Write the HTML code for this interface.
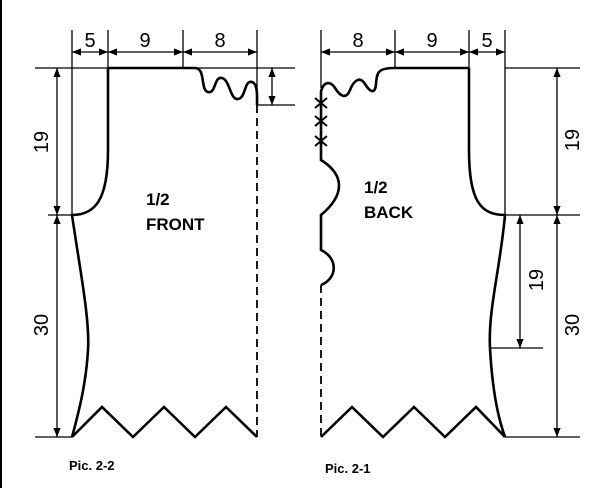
<!DOCTYPE html>
<html><head><style>
html,body{margin:0;padding:0;background:#fff;}
svg{display:block}
text{font-family:"Liberation Sans",sans-serif;fill:#000}
</style></head><body>
<svg width="615" height="488" viewBox="0 0 615 488" xmlns="http://www.w3.org/2000/svg">
<defs>
<marker id="a" viewBox="0 0 10 10" refX="10" refY="5" markerWidth="7" markerHeight="7" orient="auto-start-reverse"><path d="M0,1 L10,5 L0,9 z" fill="#000"/></marker>
</defs>
<line x1="1" y1="0" x2="1" y2="488" stroke="#000" stroke-width="2"/>
<g stroke="#000" stroke-width="1.3" fill="none">
<line x1="72" y1="30" x2="72" y2="215"/>
<line x1="108" y1="30" x2="108" y2="68"/>
<line x1="183" y1="30" x2="183" y2="68"/>
<line x1="257" y1="30" x2="257" y2="105"/>
<line x1="35" y1="68" x2="295" y2="68"/>
<line x1="48" y1="215" x2="72" y2="215"/>
<line x1="35" y1="437" x2="72" y2="437"/>
<line x1="257" y1="105" x2="295" y2="105"/>
<line x1="72" y1="52" x2="108" y2="52" marker-start="url(#a)" marker-end="url(#a)"/>
<line x1="108" y1="52" x2="183" y2="52" marker-start="url(#a)" marker-end="url(#a)"/>
<line x1="183" y1="52" x2="257" y2="52" marker-start="url(#a)" marker-end="url(#a)"/>
<line x1="57" y1="68" x2="57" y2="215" marker-start="url(#a)" marker-end="url(#a)"/>
<line x1="57" y1="215" x2="57" y2="437" marker-start="url(#a)" marker-end="url(#a)"/>
<line x1="272" y1="68" x2="272" y2="105" marker-start="url(#a)" marker-end="url(#a)"/>
<line x1="321" y1="30" x2="321" y2="88"/>
<line x1="395" y1="30" x2="395" y2="68"/>
<line x1="469" y1="30" x2="469" y2="68"/>
<line x1="505" y1="30" x2="505" y2="215"/>
<line x1="505" y1="68" x2="580" y2="68"/>
<line x1="505" y1="215" x2="580" y2="215"/>
<line x1="490" y1="348" x2="543" y2="348"/>
<line x1="505" y1="437" x2="580" y2="437"/>
<line x1="321" y1="52" x2="395" y2="52" marker-start="url(#a)" marker-end="url(#a)"/>
<line x1="395" y1="52" x2="469" y2="52" marker-start="url(#a)" marker-end="url(#a)"/>
<line x1="469" y1="52" x2="505" y2="52" marker-start="url(#a)" marker-end="url(#a)"/>
<line x1="557" y1="68" x2="557" y2="215" marker-start="url(#a)" marker-end="url(#a)"/>
<line x1="557" y1="215" x2="557" y2="437" marker-start="url(#a)" marker-end="url(#a)"/>
<line x1="520" y1="215" x2="520" y2="348" marker-start="url(#a)" marker-end="url(#a)"/>
</g>
<g stroke="#000" stroke-width="2.6" fill="none">
<path d="M108,68 L195,68 C206,68 200,90 208,92 C216,94 214,76 222,78 C230,80 230,100 238,99 C246,98 244,80 252,82 C258,84 257,96 257,105"/>
<path d="M108,68 L108,150 C108,200 95,215 72,215 C80,270 90,320 88,350 C86,385 78,415 72,437"/>
<path d="M72,437 L102,407 L133,437 L164,407 L195,437 L226,407 L257,437"/>
<line x1="257" y1="105" x2="257" y2="437" stroke-width="1.8" stroke-dasharray="8,5"/>
<path d="M469,68 L395,68 C378,68 377,72 376,84 C375,95 370,92 365,84 C360,76 354,80 350,90 C346,100 340,96 335,88 C330,80 323,82 321,92 L321,160 C345,175 345,195 321,215 L321,250 C338,258 338,278 321,285"/>
<path d="M469,68 L469,150 C469,200 480,215 505,215 C500,270 488,310 490,348 C492,385 497,415 505,437"/>
<path d="M321,437 L352,407 L383,437 L414,407 L445,437 L476,407 L505,437"/>
<line x1="321" y1="285" x2="321" y2="437" stroke-width="1.8" stroke-dasharray="8,5"/>
<g stroke-width="2"><path d="M315,98 L327,108 M327,98 L315,108 M315,116 L327,126 M327,116 L315,126 M315,136 L327,146 M327,136 L315,146"/></g>
</g>
<g font-size="20">
<text x="90" y="47" text-anchor="middle">5</text>
<text x="145" y="47" text-anchor="middle">9</text>
<text x="220" y="47" text-anchor="middle">8</text>
<text x="358" y="47" text-anchor="middle">8</text>
<text x="432" y="47" text-anchor="middle">9</text>
<text x="487" y="47" text-anchor="middle">5</text>
<text transform="translate(48,142) rotate(-90)" text-anchor="middle">19</text>
<text transform="translate(48,325) rotate(-90)" text-anchor="middle">30</text>
<text transform="translate(579,140) rotate(-90)" text-anchor="middle">19</text>
<text transform="translate(579,325) rotate(-90)" text-anchor="middle">30</text>
<text transform="translate(543,280) rotate(-90)" text-anchor="middle">19</text>
</g>
<g font-weight="bold" font-size="17">
<text x="146" y="205">1/2</text>
<text x="146" y="230">FRONT</text>
<text x="364" y="193">1/2</text>
<text x="364" y="218">BACK</text>
</g>
<text x="69" y="470" font-size="13" font-weight="bold">Pic. 2-2</text>
<text x="325" y="473" font-size="13" font-weight="bold">Pic. 2-1</text>
</svg>
</body></html>
